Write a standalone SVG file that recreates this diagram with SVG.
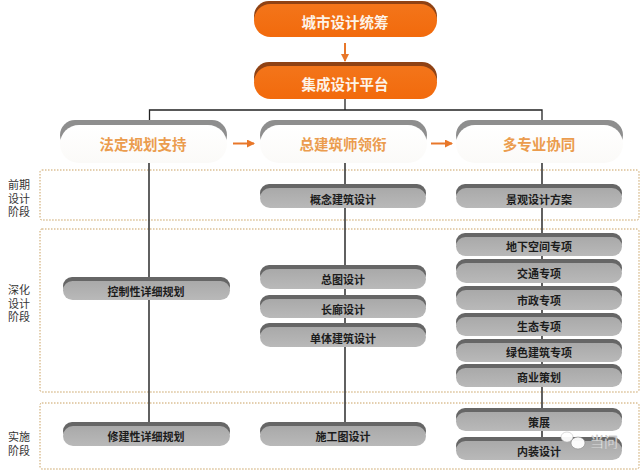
<svg xmlns="http://www.w3.org/2000/svg" width="640" height="470" viewBox="0 0 640 470">
<defs>
<linearGradient id="or" x1="0" y1="0" x2="0" y2="1"><stop offset="0" stop-color="#f3751a"/><stop offset="1" stop-color="#f26a0c"/></linearGradient>
<linearGradient id="gr" x1="0" y1="0" x2="0" y2="1"><stop offset="0" stop-color="#a9a9a9"/><stop offset="1" stop-color="#b9b9b9"/></linearGradient>
<linearGradient id="wh" x1="0" y1="0" x2="0" y2="1"><stop offset="0" stop-color="#ffffff"/><stop offset="1" stop-color="#fbfaf8"/></linearGradient>
<marker id="ah" viewBox="0 0 8 8" refX="7" refY="4" markerWidth="8" markerHeight="8" markerUnits="userSpaceOnUse" orient="auto"><path d="M0 0L8 4L0 8Z" fill="#e8772a"/></marker>
</defs>
<style>
text{font-family:"Noto Sans CJK SC","Liberation Sans",sans-serif;text-anchor:middle;dominant-baseline:central}
.band{fill:none;stroke:#c9a060;stroke-width:1;stroke-dasharray:1.5 1.5}
.ln{fill:none;stroke:#3a3a3a;stroke-width:1.6}
.top{fill:none;stroke:#222;stroke-width:1.3}
.arr{fill:none;stroke:#e8772a;stroke-width:2}
.oD{fill:#8f4214}.oF{fill:url(#or)}
.wD{fill:#8e8e8e}.wF{fill:url(#wh)}
.gD{fill:#666}.gF{fill:url(#gr)}
.ot{font-size:14.500px;font-weight:700;fill:#fdf3e8}
.wt{font-size:14.500px;font-weight:700;fill:#eb9c4e}
.gt{font-size:11px;font-weight:600;fill:#1c1c1c}
.st{font-size:11px;fill:#333}
</style>
<g id="bands">
<rect class="band" x="40" y="170" width="599" height="50" rx="2"/>
<rect class="band" x="40" y="229" width="599" height="163" rx="2"/>
<rect class="band" x="40" y="403" width="599" height="66" rx="2"/>
</g>
<g id="connectors">
<path class="top" d="M345 99V110M149.500 122V110H542V126"/>
<path class="ln" d="M149 163V423M345 163V185M345 208V266M345 289V296M345 318V324M345 347V423M542 163V438"/>
<path class="arr" d="M345 43V61" marker-end="url(#ah)"/>
<path class="arr" d="M233 143.500H254" marker-end="url(#ah)"/>
<path class="arr" d="M431 143.500H452" marker-end="url(#ah)"/>
</g>
<g id="stage-labels">
<text class="st" x="19" y="184">前期<tspan x="19" dy="13.500">设计</tspan><tspan x="19" dy="13.500">阶段</tspan></text>
<text class="st" x="19" y="289">深化<tspan x="19" dy="13.500">设计</tspan><tspan x="19" dy="13.500">阶段</tspan></text>
<text class="st" x="19" y="436">实施<tspan x="19" dy="14">阶段</tspan></text>
</g>
<g id="n1"><rect class="oD" x="254" y="1" width="183" height="30" rx="15"/><rect class="oF" x="254" y="4" width="183" height="33" rx="16.500"/><text class="ot" x="345" y="21.500">城市设计统筹</text></g>
<g id="n2"><rect class="oD" x="254" y="62" width="183" height="30" rx="15"/><rect class="oF" x="254" y="66" width="183" height="33" rx="16.500"/><text class="ot" x="345" y="83">集成设计平台</text></g>
<g id="n3"><rect class="wD" x="60" y="120" width="167" height="30" rx="15"/><rect class="wF" x="60" y="125" width="167" height="38" rx="19"/><text class="wt" x="143" y="143">法定规划支持</text></g>
<g id="n4"><rect class="wD" x="260" y="120" width="167" height="30" rx="15"/><rect class="wF" x="260" y="125" width="167" height="38" rx="19"/><text class="wt" x="343" y="143">总建筑师领衔</text></g>
<g id="n5"><rect class="wD" x="456" y="120" width="167" height="30" rx="15"/><rect class="wF" x="456" y="125" width="167" height="38" rx="19"/><text class="wt" x="539" y="143">多专业协同</text></g>
<g id="n6"><rect class="gD" x="260" y="184" width="166" height="18" rx="9"/><rect class="gF" x="260" y="188" width="166" height="20" rx="10"/><text class="gt" x="343" y="198.500">概念建筑设计</text></g>
<g id="n7"><rect class="gD" x="456" y="184" width="166" height="18" rx="9"/><rect class="gF" x="456" y="188" width="166" height="20" rx="10"/><text class="gt" x="539" y="198.500">景观设计方案</text></g>
<g id="n8"><rect class="gD" x="456" y="233" width="166" height="18" rx="9"/><rect class="gF" x="456" y="237" width="166" height="19" rx="9.500"/><text class="gt" x="539" y="246">地下空间专项</text></g>
<g id="n9"><rect class="gD" x="456" y="259" width="166" height="18" rx="9"/><rect class="gF" x="456" y="263" width="166" height="20" rx="10"/><text class="gt" x="539" y="272.500">交通专项</text></g>
<g id="n10"><rect class="gD" x="456" y="286" width="166" height="18" rx="9"/><rect class="gF" x="456" y="290" width="166" height="20" rx="10"/><text class="gt" x="539" y="299.500">市政专项</text></g>
<g id="n11"><rect class="gD" x="456" y="313" width="166" height="18" rx="9"/><rect class="gF" x="456" y="317" width="166" height="19" rx="9.500"/><text class="gt" x="539" y="325.500">生态专项</text></g>
<g id="n12"><rect class="gD" x="456" y="339" width="166" height="18" rx="9"/><rect class="gF" x="456" y="343" width="166" height="19" rx="9.500"/><text class="gt" x="539" y="351.500">绿色建筑专项</text></g>
<g id="n13"><rect class="gD" x="456" y="364" width="166" height="18" rx="9"/><rect class="gF" x="456" y="368" width="166" height="19" rx="9.500"/><text class="gt" x="539" y="377">商业策划</text></g>
<g id="n14"><rect class="gD" x="456" y="408" width="166" height="18" rx="9"/><rect class="gF" x="456" y="412" width="166" height="19" rx="9.500"/><text class="gt" x="539" y="422">策展</text></g>
<g id="n15"><rect class="gD" x="456" y="437" width="166" height="18" rx="9"/><rect class="gF" x="456" y="441" width="166" height="19" rx="9.500"/><text class="gt" x="539" y="451">内装设计</text></g>
<g id="n16"><rect class="gD" x="260" y="265" width="166" height="18" rx="9"/><rect class="gF" x="260" y="269" width="166" height="20" rx="10"/><text class="gt" x="343" y="279">总图设计</text></g>
<g id="n17"><rect class="gD" x="260" y="295" width="166" height="18" rx="9"/><rect class="gF" x="260" y="299" width="166" height="19" rx="9.500"/><text class="gt" x="343" y="308.500">长廊设计</text></g>
<g id="n18"><rect class="gD" x="260" y="323" width="166" height="18" rx="9"/><rect class="gF" x="260" y="327" width="166" height="20" rx="10"/><text class="gt" x="343" y="337.500">单体建筑设计</text></g>
<g id="n19"><rect class="gD" x="260" y="422" width="166" height="18" rx="9"/><rect class="gF" x="260" y="426" width="166" height="20" rx="10"/><text class="gt" x="343" y="436">施工图设计</text></g>
<g id="n20"><rect class="gD" x="63" y="277" width="167" height="18" rx="9"/><rect class="gF" x="63" y="281" width="167" height="19" rx="9.500"/><text class="gt" x="146" y="290.500">控制性详细规划</text></g>
<g id="n21"><rect class="gD" x="63" y="422" width="167" height="18" rx="9"/><rect class="gF" x="63" y="426" width="167" height="20" rx="10"/><text class="gt" x="146" y="436">修建性详细规划</text></g>
<g id="watermark">
<ellipse cx="567" cy="437" rx="6" ry="5" fill="#fff" fill-opacity=".95" stroke="#b5b5b5" stroke-width=".5"/>
<ellipse cx="578" cy="443" rx="7" ry="6" fill="#fff" fill-opacity=".95" stroke="#8a8a8a" stroke-width=".6"/>
<text x="604" y="441" style="font-size:14px;fill:#f2f2f2;stroke:#aaa;stroke-width:.4">当问</text>
</g>
</svg>
